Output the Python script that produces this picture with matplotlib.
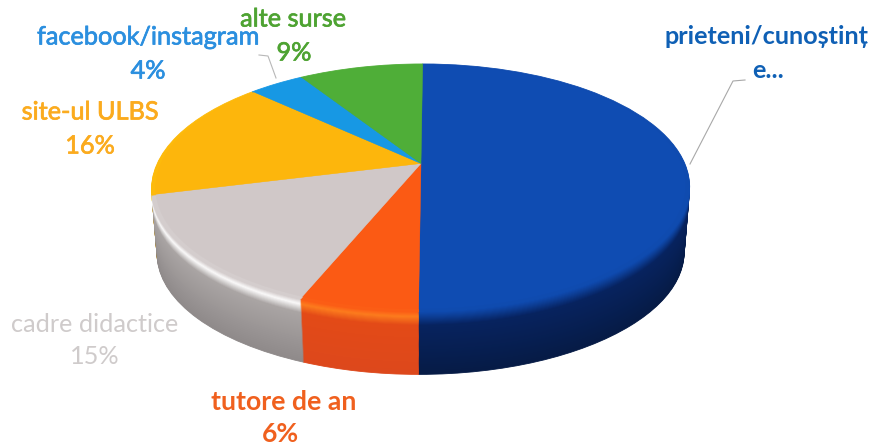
import numpy as np
import matplotlib
matplotlib.use("Agg")
import matplotlib.pyplot as plt
import matplotlib.patheffects as pe
from matplotlib.transforms import Transform
from matplotlib.colors import to_rgb

categories = ["prieteni/cunoștinț\ne...", "tutore de an", "cadre didactice",
              "site-ul ULBS", "facebook/instagram", "alte surse"]
values = [50, 6, 15, 16, 4, 9]

top_colors = ["#0f4cb2", "#fb5a14", "#d0c8c8", "#fdb60c", "#1798e4", "#4fae38"]
rim_colors = ["#0d3f96", "#fd7c1e", "#fbfafa", "#fde000", "#2aa0e8", "#5cb840"]
wall_top = ["#07235f", "#e34a17", "#aaa5a4", "#c89000", "#1070b0", "#3a8a2a"]
wall_bottom = ["#061b46", "#dd481c", "#8f8a8a", "#a07000", "#0a5080", "#2a6a20"]
label_colors = ["#0f60b5", "#2b8fdf", "#4ea332", "#fbab1e", "#cfcbcb", "#f0601e"]
label_weights = ["bold", "normal", "normal", "normal", "normal", "bold"]
label_strokes = [0.0, 0.5, 0.5, 0.5, 0.0, 0.0]
label_order = [0, 4, 5, 3, 2, 1]
label_pos = [(766, 36), (148, 37), (293, 19), (90, 112), (95, 324), (284, 402)]
pct_pos = [None, (148, 71), (294, 53), (90, 146), (95, 357), (280, 434)]

CX, CY, A, B, K, E = 421.0, 165.0, 264.0, 119.4, 0.1935, 2.0
TOP_DROP, BOTTOM_DROP = -1.5, 65.0


class Persp(Transform):
    input_dims = output_dims = 2
    is_affine = False
    has_inverse = False

    def __init__(self, drop=0.0, scale=1.0):
        super().__init__()
        self.drop, self.scale = drop, scale

    def transform_non_affine(self, v):
        v = np.asarray(v, float) * self.scale
        w = 1 + K * v[:, 1]
        return np.column_stack([CX + (A * v[:, 0] + E * v[:, 1]) / w,
                                CY + self.drop - B * v[:, 1] / w])


def lerp(a, b, t):
    a, b = np.array(to_rgb(a)), np.array(to_rgb(b))
    return tuple(a + (b - a) * t)


def shade(i, t):
    if t < 0.08:
        return lerp(top_colors[i], rim_colors[i], t / 0.08)
    if t < 0.22:
        return lerp(rim_colors[i], wall_top[i], (t - 0.08) / 0.14)
    return lerp(wall_top[i], wall_bottom[i], (t - 0.22) / 0.78)


fig = plt.figure(figsize=(8.72, 4.46), dpi=100)
ax = fig.add_axes([0, 0, 1, 1])

for d in np.arange(BOTTOM_DROP, TOP_DROP - 0.1, -1.0):
    t = (d - TOP_DROP) / (BOTTOM_DROP - TOP_DROP)
    cols = [shade(i, t) for i in range(len(values))]
    wedges, _ = ax.pie(values, colors=cols, startangle=90, counterclock=False)
    sc = 1 - 0.02 * t
    for w, c in zip(wedges, cols):
        w.set_transform(Persp(d, sc) + ax.transData)
        w.set_edgecolor(c)
        w.set_linewidth(0.6)

wedges, _ = ax.pie(values, colors=top_colors, startangle=90, counterclock=False)
for w, c in zip(wedges, top_colors):
    w.set_transform(Persp(TOP_DROP, 0.985) + ax.transData)
    w.set_edgecolor(c)
    w.set_linewidth(0.3)

ax.set_aspect("auto")
ax.set_xlim(0, 872)
ax.set_ylim(446, 0)
ax.axis("off")

ax.plot([745, 733, 690], [80, 81, 164], color="#a8a8a8", lw=0.8)
ax.plot([259, 268, 276], [55, 56, 78], color="#b8b8b8", lw=0.8)

for n, idx in enumerate(label_order):
    val = values[idx]
    size = 19.2 if idx == 1 else 18.2
    style = dict(family="Lato", fontsize=size, fontweight=label_weights[n],
                 color=label_colors[n], ha="center", va="center")
    if label_strokes[n]:
        style["path_effects"] = [pe.withStroke(linewidth=label_strokes[n],
                                               foreground=label_colors[n])]
    parts = categories[idx].split("\n")
    ax.text(*label_pos[n], parts[0], **style)
    if pct_pos[n] is None:
        ax.text(768, 71, parts[1], **style)
    else:
        ax.text(*pct_pos[n], f"{val}%", **style)

fig.savefig("out.png", dpi=100, facecolor="white")
